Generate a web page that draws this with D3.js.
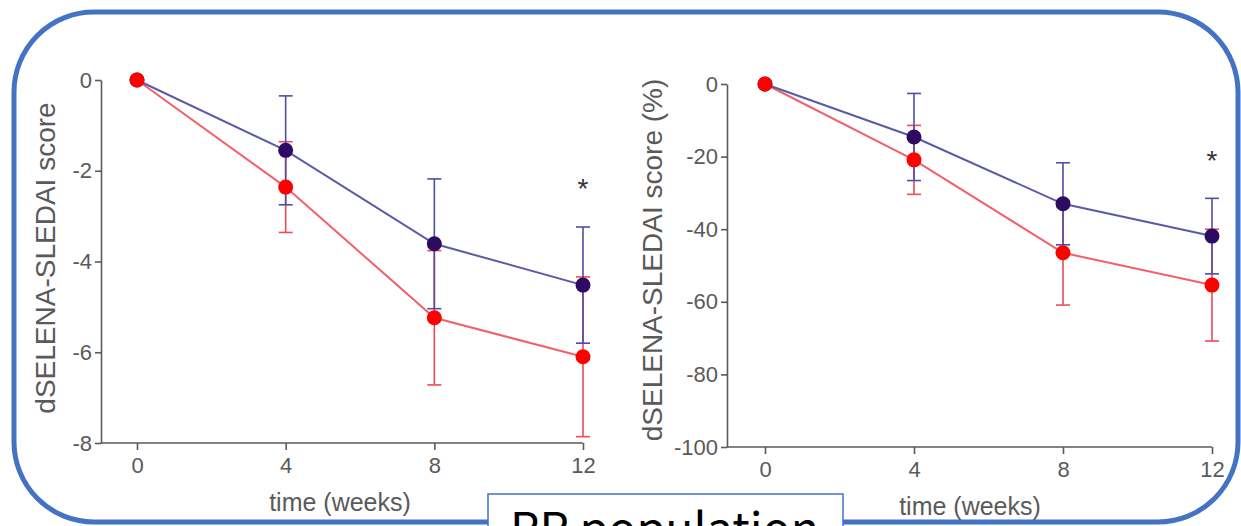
<!DOCTYPE html>
<html>
<head>
<meta charset="utf-8">
<script src="https://cdn.jsdelivr.net/npm/d3@7"></script>
<style>
  body { margin: 0; background: #fff; }
  svg { display: block; }
  .axis text { font-family: Arial, "Liberation Sans", sans-serif; font-size: 22px; fill: #5a5a5a; }
  .axis path, .axis line { stroke: #5a5a5a; stroke-width: 1.6; }
</style>
</head>
<body>
<svg id="chart" width="1241" height="526"></svg>
<script>
// weeks on the x axis
var weeks = [0, 4, 8, 12];

// left panel: absolute change in score
var absBlue = [0, -1.55, -3.61, -4.52];
var absBlueErr = [0, 1.2, 1.43, 1.28];
var absRed = [0, -2.36, -5.24, -6.1];
var absRedErr = [0, 1.0, 1.48, 1.76];
var absTicks = [0, -2, -4, -6, -8];

// right panel: percent change in score
var pctBlue = [0, -14.6, -33, -41.9];
var pctBlueErr = [0, 12, 11.3, 10.4];
var pctRed = [0, -20.9, -46.5, -55.4];
var pctRedErr = [0, 9.5, 14.4, 15.4];
var pctTicks = [0, -20, -40, -60, -80, -100];

var svg = d3.select('#chart');

// rounded frame
svg.append('rect')
  .attr('x', 14).attr('y', 12)
  .attr('width', 1224).attr('height', 510)
  .attr('rx', 80).attr('ry', 80)
  .attr('fill', 'none')
  .attr('stroke', '#4472C4')
  .attr('stroke-width', 5);

// plain hyphen for negatives, like the original figure
function fmt(d) { return String(d); }

function draw_panel(opts) {

  var x = d3.scaleLinear().domain([0, 12]).range([opts.x0, opts.x12]);
  var y = d3.scaleLinear().domain(opts.ydomain).range([opts.ytop, opts.ybot]);

  var g = svg.append('g');

  g.append('g')
    .attr('class', 'axis')
    .attr('transform', 'translate(' + opts.yaxisX + ',0)')
    .call(d3.axisLeft(y).tickValues(opts.yticks).tickFormat(fmt).tickSize(6).tickSizeOuter(0).tickPadding(3));

  // x axis line starts at the y axis
  var xaxis = g.append('g')
    .attr('class', 'axis')
    .attr('transform', 'translate(0,' + opts.ybot + ')')
    .call(d3.axisBottom(x).tickValues(weeks).tickFormat(fmt).tickSize(7).tickSizeOuter(0).tickPadding(7));
  xaxis.select('.domain').attr('d', 'M' + opts.yaxisX + ',0H' + opts.x12);

  // y title
  g.append('text')
    .attr('transform', 'translate(' + opts.ytitleX + ',' + opts.ytitleY + ') rotate(-90)')
    .attr('text-anchor', 'middle')
    .style('font-family', 'Arial, "Liberation Sans", sans-serif')
    .style('font-size', '28px')
    .style('fill', '#5a5a5a')
    .text(opts.ytitle);

  // x title
  g.append('text')
    .attr('x', opts.xtitleX)
    .attr('y', opts.ybot + 68)
    .attr('text-anchor', 'middle')
    .style('font-family', 'Arial, "Liberation Sans", sans-serif')
    .style('font-size', '25px')
    .style('fill', '#5a5a5a')
    .text('time (weeks)');

  var line = d3.line()
    .x(function(d, i) { return x(weeks[i]); })
    .y(function(d) { return y(d); });

  var series = [
    {vals: opts.red, err: opts.redErr, line: '#f2606a', bar: '#ef4a55', dot: '#ff0000'},
    {vals: opts.blue, err: opts.blueErr, line: '#5a5aa8', bar: '#4e4ea6', dot: '#2e0b62'}
  ];

  // error bars (skip week 0)
  series.forEach(function(s) {
    var eb = g.append('g');
    s.vals.forEach(function(v, i) {
      if (i === 0) return;
      var cx = x(weeks[i]);
      var top = y(v + s.err[i]);
      var bot = y(v - s.err[i]);
      eb.append('line').attr('x1', cx).attr('x2', cx).attr('y1', top).attr('y2', bot)
        .attr('stroke', s.bar).attr('stroke-width', 1.6);
      [top, bot].forEach(function(yy) {
        eb.append('line').attr('x1', cx - 7).attr('x2', cx + 7).attr('y1', yy).attr('y2', yy)
          .attr('stroke', s.bar).attr('stroke-width', 1.6);
      });
    });
  });

  series.forEach(function(s) {
    g.append('path')
      .datum(s.vals)
      .attr('d', line)
      .attr('fill', 'none')
      .attr('stroke', s.line)
      .attr('stroke-width', 2);
  });

  // blue dots first, then red (red covers the shared origin)
  [series[1], series[0]].forEach(function(s) {
    var pts = s.vals.map(function(v, i) { return {w: weeks[i], v: v}; });
    g.selectAll(null)
      .data(pts)
      .enter()
      .append('circle')
      .attr('cx', function(d) { return x(d.w); })
      .attr('cy', function(d) { return y(d.v); })
      .attr('r', 7.5)
      .attr('fill', s.dot);
  });

  // significance star at week 12
  g.append('text')
    .attr('x', x(12))
    .attr('y', opts.starY)
    .attr('text-anchor', 'middle')
    .style('font-family', 'Arial, "Liberation Sans", sans-serif')
    .style('font-size', '28px')
    .style('fill', '#333')
    .text('*');
}

draw_panel({
  x0: 137, x12: 583, yaxisX: 101,
  ytop: 80, ybot: 443, ydomain: [0, -8], yticks: absTicks,
  ytitle: 'dSELENA-SLEDAI score', ytitleX: 55, ytitleY: 258, xtitleX: 340,
  blue: absBlue, blueErr: absBlueErr, red: absRed, redErr: absRedErr,
  starY: 198
});

draw_panel({
  x0: 765, x12: 1212, yaxisX: 727,
  ytop: 84, ybot: 447, ydomain: [0, -100], yticks: pctTicks,
  ytitle: 'dSELENA-SLEDAI score (%)', ytitleX: 662, ytitleY: 260, xtitleX: 970,
  blue: pctBlue, blueErr: pctBlueErr, red: pctRed, redErr: pctRedErr,
  starY: 170
});

// caption box cut by the bottom edge
svg.append('rect')
  .attr('x', 488).attr('y', 494)
  .attr('width', 355).attr('height', 60)
  .attr('fill', '#fff')
  .attr('stroke', '#4472C4')
  .attr('stroke-width', 1.5);

svg.append('text')
  .attr('x', 510)
  .attr('y', 546)
  .style('font-family', '"Noto Sans CJK JP", "Noto Sans", sans-serif')
  .style('font-size', '46.5px')
  .style('fill', '#000')
  .text('RR population');
</script>
</body>
</html>
